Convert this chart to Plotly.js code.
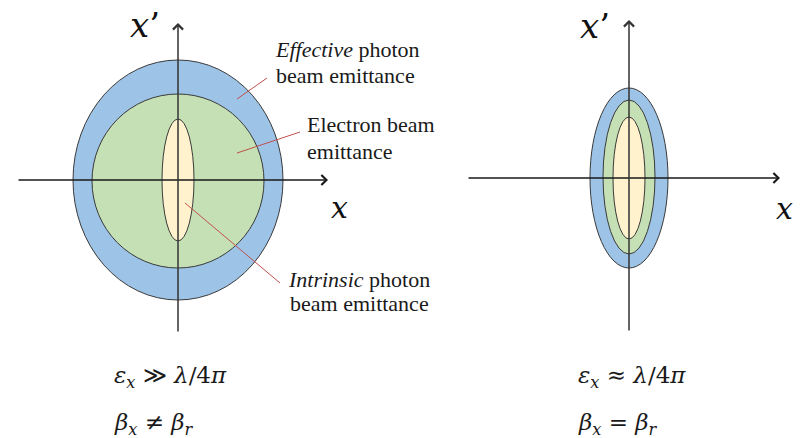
<!DOCTYPE html>
<html>
<head>
<meta charset="utf-8">
<script src="https://cdn.plot.ly/plotly-3.0.1.min.js"></script>
<style>html,body{margin:0;padding:0;background:#fff;}#chart{width:802px;height:438px;}</style>
</head>
<body>
<div id="chart"></div>
<script>
// ---- data (units: pixels of phase space, origin at axis crossing) ----
const ellipseNames = ['Effective photon beam emittance', 'Electron beam emittance', 'Intrinsic photon beam emittance'];
const ellipseColors = ['#9dc3e6', '#c5e0b4', '#fff2cc'];
const leftRx = [105, 86, 16];
const leftRy = [120, 87, 61];
const leftCy = [0, -1, 0];
const rightRx = [39, 26, 16];
const rightRy = [90, 77, 61];
const rightCy = [0, 1, 0];
const leftAxisX = [-161, 150];
const leftAxisY = [-153, 157];
const rightAxisX = [-162, 151];
const rightAxisY = [-154, 158];
const leftFormulas = ['<i>ε<sub>x</sub></i> ≫ <i>λ</i>/4<i>π</i>', '<i>β<sub>x</sub></i> ≠ <i>β<sub>r</sub></i>'];
const rightFormulas = ['<i>ε<sub>x</sub></i> ≈ <i>λ</i>/4<i>π</i>', '<i>β<sub>x</sub></i> = <i>β<sub>r</sub></i>'];
// label lines (left, top) in left-panel units
const labelLines = ['<i>Effective</i> photon', 'beam emittance', 'Electron beam', 'emittance', '<i>Intrinsic</i> photon', 'beam emittance'];
const labelX = [95, 96, 127, 127, 108, 110];
const labelY = [145, 119, 70, 43, -85, -109];
// connector lines, in left-panel units
const connX0 = [89, 122, 7];
const connY0 = [102, 48, -23];
const connX1 = [59, 59, 102];
const connY1 = [81, 27, -103];

const labelFamily = 'Liberation Serif';
const mathFamily = 'DejaVu Serif';
const shapes = [];
const annotations = [];

function addEllipses(xr, yr, rx, ry, cy) {
  for (let i = 0; i < rx.length; i++) {
    shapes.push({type: 'circle', xref: xr, yref: yr,
      x0: -rx[i], x1: rx[i], y0: cy[i] - ry[i], y1: cy[i] + ry[i],
      fillcolor: ellipseColors[i], line: {color: '#3a3a3a', width: 1}});
  }
}
function addAxes(xr, yr, ax, ay) {
  annotations.push({xref: xr, yref: yr, axref: xr, ayref: yr, x: ax[1], y: 0, ax: ax[0], ay: 0,
    text: '', showarrow: true, arrowhead: 4, arrowsize: 1.3, arrowwidth: 1.5, arrowcolor: '#1a1a1a', standoff: 0});
  annotations.push({xref: xr, yref: yr, axref: xr, ayref: yr, x: 0, y: ay[1], ax: 0, ay: ay[0],
    text: '', showarrow: true, arrowhead: 4, arrowsize: 1.3, arrowwidth: 1.5, arrowcolor: '#333', standoff: 0});
}
addEllipses('x', 'y', leftRx, leftRy, leftCy);
addEllipses('x2', 'y2', rightRx, rightRy, rightCy);
addAxes('x', 'y', leftAxisX, leftAxisY);
addAxes('x2', 'y2', rightAxisX, rightAxisY);

// connectors
for (let i = 0; i < connX0.length; i++) {
  shapes.push({type: 'line', xref: 'x', yref: 'y', x0: connX0[i], y0: connY0[i], x1: connX1[i], y1: connY1[i],
    line: {color: '#c0504d', width: 1}});
}
// label lines
for (let i = 0; i < labelLines.length; i++) {
  annotations.push({xref: 'x', yref: 'y', x: labelX[i], y: labelY[i], xanchor: 'left', yanchor: 'top', align: 'left',
    text: labelLines[i], showarrow: false, font: {family: labelFamily, size: 22, color: '#1a1a1a'}});
}
// axis labels
const axisLabelFont = {family: mathFamily, size: 34, color: '#111'};
annotations.push({xref: 'x', yref: 'y', x: -33, y: 155, text: '<i>x</i>’', showarrow: false, xanchor: 'center', yanchor: 'middle', font: axisLabelFont});
annotations.push({xref: 'x', yref: 'y', x: 161, y: -27, text: '<i>x</i>', showarrow: false, xanchor: 'center', yanchor: 'middle', font: {family: mathFamily, size: 30, color: '#111'}});
annotations.push({xref: 'x2', yref: 'y2', x: -34, y: 152, text: '<i>x</i>’', showarrow: false, xanchor: 'center', yanchor: 'middle', font: axisLabelFont});
annotations.push({xref: 'x2', yref: 'y2', x: 155, y: -30, text: '<i>x</i>', showarrow: false, xanchor: 'center', yanchor: 'middle', font: {family: mathFamily, size: 30, color: '#111'}});
// formulas
const fFont = {family: mathFamily, size: 23, color: '#1a1a1a'};
annotations.push({xref: 'x', yref: 'y', x: -66, y: -180, text: leftFormulas[0], showarrow: false, xanchor: 'left', yanchor: 'top', font: fFont});
annotations.push({xref: 'x', yref: 'y', x: -66, y: -227, text: leftFormulas[1], showarrow: false, xanchor: 'left', yanchor: 'top', font: fFont});
annotations.push({xref: 'x2', yref: 'y2', x: -53, y: -182, text: rightFormulas[0], showarrow: false, xanchor: 'left', yanchor: 'top', font: fFont});
annotations.push({xref: 'x2', yref: 'y2', x: -53, y: -229, text: rightFormulas[1], showarrow: false, xanchor: 'left', yanchor: 'top', font: fFont});

const hidden = {visible: false, fixedrange: true};
const layout = {
  width: 802, height: 438,
  margin: {l: 0, r: 0, t: 0, b: 0},
  paper_bgcolor: '#fff', plot_bgcolor: 'rgba(0,0,0,0)',
  showlegend: false,
  font: {family: labelFamily},
  xaxis: Object.assign({domain: [0, 0.5], range: [-178, 223]}, hidden),
  yaxis: Object.assign({domain: [0, 1], range: [-258, 180]}, hidden),
  xaxis2: Object.assign({domain: [0.5, 1], range: [-228, 173], anchor: 'y2'}, hidden),
  yaxis2: Object.assign({domain: [0, 1], range: [-260, 178], anchor: 'x2'}, hidden),
  shapes: shapes,
  annotations: annotations
};
const traces = [
  {x: [0], y: [0], xaxis: 'x', yaxis: 'y', mode: 'markers', marker: {opacity: 0}, hoverinfo: 'skip', name: ellipseNames[0]},
  {x: [0], y: [0], xaxis: 'x2', yaxis: 'y2', mode: 'markers', marker: {opacity: 0}, hoverinfo: 'skip', name: ellipseNames[1]}
];
Plotly.newPlot('chart', traces, layout, {displayModeBar: false, staticPlot: true});
</script>
</body>
</html>
